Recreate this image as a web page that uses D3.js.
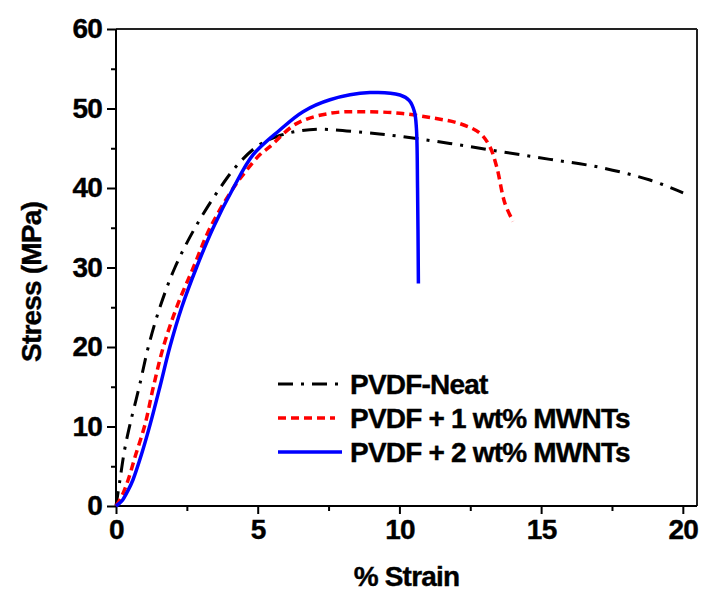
<!DOCTYPE html>
<html><head><meta charset="utf-8">
<script src="https://cdn.jsdelivr.net/npm/d3@7"></script>
<style>
body{margin:0;background:#fff;}
svg text{font-family:"Liberation Sans",Arial,sans-serif;font-weight:bold;fill:#000;stroke:#000;stroke-width:0.4px;}
</style></head>
<body><svg id="c" width="702" height="592"></svg>
<script>
const seriesNames = ["PVDF-Neat", "PVDF + 1 wt% MWNTs", "PVDF + 2 wt% MWNTs"];
const neat = [[0,0],[0.14,3.3],[0.3,7],[0.49,10.2],[0.82,15],[1.14,20],[1.55,25],[2.08,30],[2.79,35],[3.67,40],[4.26,42.8],[5.0,45.3],[5.78,46.6],[6.5,47.2],[7.2,47.4],[8.72,47.0],[10.02,46.5],[11.78,45.6],[13.54,44.6],[15.31,43.6],[17.07,42.6],[18.84,41.0],[20.01,39.4]];
const mwnt1 = [[0,0],[0.2,1.2],[0.43,3.3],[0.7,6.5],[1.02,10.2],[1.32,15],[1.67,20],[2.14,25],[2.73,30],[3.32,35],[4.14,40],[4.6,42.2],[5.08,44.2],[5.43,45.2],[6.37,48.1],[7.55,49.4],[8.72,49.6],[10.02,49.4],[11.19,48.8],[12.13,48.1],[12.84,46.9],[13.19,45.2],[13.43,42.7],[13.72,38.1],[14.01,35.8]];
const mwnt2 = [[0,0],[0.2,0.6],[0.43,2.0],[0.6,3.3],[0.9,6.5],[1.2,10.2],[1.55,15],[1.9,20],[2.32,25],[2.84,30],[3.43,35],[4.14,40],[4.84,44.2],[5.78,47.3],[6.6,49.6],[7.55,51.1],[8.96,52.0],[10.02,51.7],[10.35,51.0],[10.53,49.6],[10.6,47.5],[10.64,40],[10.67,28]];
const xTicks = [0,5,10,15,20];
const yTicks = [0,10,20,30,40,50,60];
const xMinor = [2.5,7.5,12.5,17.5];
const yMinor = [5,15,25,35,45,55];

const svg = d3.select("#c");
const L=116,T=29,R=697,B=506;
const x = d3.scaleLinear().domain([0,20.5]).range([L,R]);
const y = d3.scaleLinear().domain([0,60]).range([B,T]);

// frame
svg.append("line").attr("x1",L).attr("x2",R).attr("y1",T).attr("y2",T).attr("stroke","#222").attr("stroke-width",2);
svg.append("line").attr("x1",R).attr("x2",R).attr("y1",T).attr("y2",B).attr("stroke","#222").attr("stroke-width",2);

// axes
const xAxis = svg.append("g").attr("transform",`translate(0,${B})`)
  .call(d3.axisBottom(x).tickValues(xTicks).tickSize(8).tickPadding(5).tickFormat(d3.format("d")));
const xAxisMin = svg.append("g").attr("transform",`translate(0,${B})`)
  .call(d3.axisBottom(x).tickValues(xMinor).tickSize(5).tickFormat(""));
const yAxis = svg.append("g").attr("transform",`translate(${L},0)`)
  .call(d3.axisLeft(y).tickValues(yTicks).tickSize(9).tickPadding(5).tickFormat(d3.format("d")));
const yAxisMin = svg.append("g").attr("transform",`translate(${L},0)`)
  .call(d3.axisLeft(y).tickValues(yMinor).tickSize(5).tickFormat(""));
[xAxis,xAxisMin,yAxis,yAxisMin].forEach(g=>{
  g.selectAll(".domain").attr("stroke","#000").attr("stroke-width",2);
  g.selectAll(".tick line").attr("stroke","#000").attr("stroke-width",2);
});
xAxisMin.select(".domain").remove(); yAxisMin.select(".domain").remove();
xAxis.select(".domain").attr("d",`M${L},0H${R}`);
yAxis.select(".domain").attr("d",`M0,${B}V${T}`);
[xAxis,yAxis].forEach(g=>g.selectAll(".tick text").attr("font-size",28).attr("letter-spacing",-0.8)
  .attr("font-family","Liberation Sans, Arial, sans-serif").attr("font-weight","bold"));

// titles
svg.append("text").attr("x",(L+R)/2).attr("y",586).attr("text-anchor","middle").attr("font-size",28).attr("letter-spacing",-0.8).text("% Strain");
svg.append("text").attr("transform","translate(41,282) rotate(-90)").attr("text-anchor","middle").attr("font-size",28).attr("letter-spacing",-0.8).text("Stress (MPa)");

// lines
const line = d3.line().x(d=>x(d[0])).y(d=>y(d[1])).curve(d3.curveCatmullRom.alpha(0.5));
const styles = [
  {data:neat,color:"#000",dash:"15,8,3,8",w:3},
  {data:mwnt1,color:"#ff0000",dash:"8,5",w:3.5},
  {data:mwnt2,color:"#0000ff",dash:null,w:3.5}
];
styles.forEach(s=>{
  svg.append("path").datum(s.data).attr("d",line).attr("fill","none")
    .attr("stroke",s.color).attr("stroke-width",s.w).attr("stroke-dasharray",s.dash);
});

// legend
const legY = [384,418,452];
const legX2 = [340,335,342];
seriesNames.forEach((n,i)=>{
  const s=styles[i];
  svg.append("line").attr("x1",278).attr("x2",legX2[i]).attr("y1",legY[i]).attr("y2",legY[i])
    .attr("stroke",s.color).attr("stroke-width",s.w).attr("stroke-dasharray",s.dash);
  svg.append("text").attr("x",350).attr("y",legY[i]+10).attr("font-size",28).attr("letter-spacing",-0.8).text(n);
});
</script></body></html>
